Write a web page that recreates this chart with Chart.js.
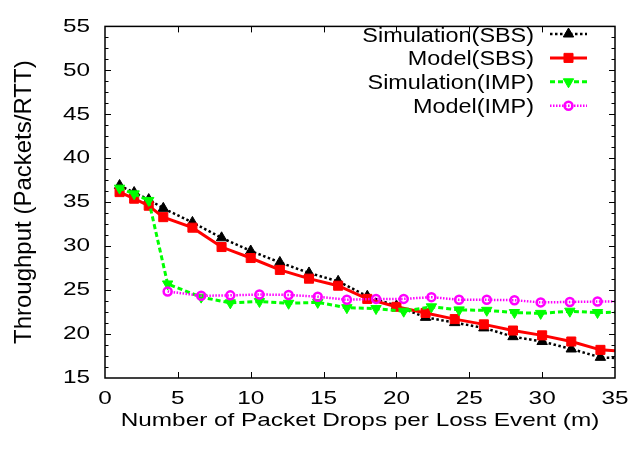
<!DOCTYPE html>
<html>
<head>
<meta charset="utf-8">
<script src="https://cdn.jsdelivr.net/npm/chart.js@4.4.1/dist/chart.umd.min.js"></script>
<style>
  html, body { margin: 0; padding: 0; background: #fff; }
  canvas { display: block; }
</style>
</head>
<body>
<canvas id="chart" width="641" height="451"></canvas>
<script>
// m values (packet drops per loss event) for the SBS runs and the IMP runs
const sbsDrops = [1, 2, 3, 4, 6, 8, 10, 12, 14, 16, 18, 20, 22, 24, 26, 28, 30, 32, 34, 36];
const simSbs = [36.9, 36.1, 35.3, 34.3, 32.7, 30.95, 29.45, 28.15, 26.95, 26.0, 24.3, 23.2, 21.9, 21.3, 20.7, 19.7, 19.15, 18.3, 17.35, 17.2];
const modelSbs = [36.15, 35.4, 34.6, 33.3, 32.1, 29.9, 28.65, 27.3, 26.3, 25.5, 24.0, 23.1, 22.4, 21.7, 21.1, 20.4, 19.85, 19.15, 18.2, 18.0];

const impDrops = [1, 2, 3, 4.3, 6.6, 8.6, 10.6, 12.6, 14.6, 16.6, 18.6, 20.5, 22.4, 24.3, 26.2, 28.1, 29.9, 31.9, 33.8, 35.7];
const simImp = [36.6, 35.95, 35.2, 25.7, 24.2, 23.55, 23.7, 23.5, 23.6, 23.0, 22.9, 22.6, 23.1, 22.75, 22.7, 22.45, 22.35, 22.6, 22.45, 22.5];
const modelImpDrops = impDrops.slice(3);
const modelImp = [24.85, 24.35, 24.4, 24.5, 24.45, 24.25, 23.9, 24.0, 24.0, 24.2, 23.9, 23.9, 23.85, 23.6, 23.65, 23.7, 23.7];

const xRange = [0, 35];
const xStep = 5;
const yRange = [15, 55];
const yStep = 5;
const yMinorStep = 1.25;

const xTitle = "Number of Packet Drops per Loss Event (m)";
const yTitle = "Throughput (Packets/RTT)";

const toPoints = (xs, ys) => xs.map((x, i) => ({ x: x, y: ys[i] }));

// the reference text is drawn wide, so horizontal text gets stretched around its anchor
let textStretch = 1.28;
const canvas = document.getElementById("chart");
const ctx = canvas.getContext("2d");
const rawFillText = CanvasRenderingContext2D.prototype.fillText;
ctx.fillText = function (text, x, y, maxWidth) {
    const m = this.getTransform();
    const sx = Math.abs(m.b) > 0.01 ? 1 : textStretch;
    this.save();
    this.translate(x, y);
    this.scale(sx, 1);
    if (maxWidth === undefined) rawFillText.call(this, text, 0, 0);
    else rawFillText.call(this, text, 0, 0, maxWidth / sx);
    this.restore();
};

const frame = {
    id: "frame",
    afterDraw(chart) {
        const { ctx, chartArea: a, scales } = chart;
        ctx.save();
        ctx.strokeStyle = "#000";
        ctx.lineWidth = 1.5;
        ctx.strokeRect(a.left, a.top, a.right - a.left, a.bottom - a.top);
        ctx.lineWidth = 1;
        ctx.beginPath();
        for (let v = xRange[0] + xStep; v < xRange[1]; v += xStep) {
            const px = Math.round(scales.x.getPixelForValue(v)) + 0.5;
            ctx.moveTo(px, a.bottom);
            ctx.lineTo(px, a.bottom - 6);
            ctx.moveTo(px, a.top);
            ctx.lineTo(px, a.top + 6);
        }
        for (let v = yRange[0] + yMinorStep; v < yRange[1]; v += yMinorStep) {
            const py = Math.round(scales.y.getPixelForValue(v)) + 0.5;
            const len = v % yStep === 0 ? 6 : 3.5;
            ctx.moveTo(a.left, py);
            ctx.lineTo(a.left + len, py);
            ctx.moveTo(a.right, py);
            ctx.lineTo(a.right - len, py);
        }
        ctx.stroke();
        ctx.restore();
    },
};

const keyBox = {
    id: "keyBox",
    afterDraw(chart) {
        const { ctx } = chart;
        ctx.save();
        textStretch = 1.2;
        ctx.font = "19.5px 'Liberation Sans', Arial, sans-serif";
        ctx.textAlign = "right";
        ctx.textBaseline = "alphabetic";
        chart.data.datasets.forEach((ds, i) => {
            const base = 41.5 + i * 23.9;
            const ly = base - 7.5;
            ctx.fillStyle = "#000";
            ctx.fillText(ds.label, 534, base);
            ctx.save();
            ctx.strokeStyle = ds.borderColor;
            ctx.lineWidth = ds.borderWidth;
            ctx.setLineDash(ds.borderDash || []);
            ctx.beginPath();
            ctx.moveTo(550, ly);
            ctx.lineTo(587, ly);
            ctx.stroke();
            ctx.restore();
            ctx.fillStyle = ds.pointBackgroundColor;
            ctx.strokeStyle = ds.pointBorderColor;
            ctx.lineWidth = ds.pointBorderWidth;
            Chart.helpers.drawPoint(ctx, {
                pointStyle: ds.pointStyle,
                rotation: ds.pointRotation || 0,
                radius: ds.pointRadius,
                borderWidth: ds.pointBorderWidth,
            }, 568.5, ly);
        });
        textStretch = 1.28;
        ctx.restore();
    },
};

Chart.defaults.font.family = "'Liberation Sans', Arial, sans-serif";
Chart.defaults.color = "#000";

new Chart(ctx, {
    type: "line",
    data: {
        datasets: [
            {
                label: "Simulation(SBS)",
                data: toPoints(sbsDrops, simSbs),
                borderColor: "#000",
                borderWidth: 2.5,
                borderDash: [2.5, 2.5],
                pointStyle: "triangle",
                pointRadius: 6,
                pointBorderWidth: 1,
                pointBackgroundColor: "#000",
                pointBorderColor: "#000",
                order: 4,
            },
            {
                label: "Model(SBS)",
                data: toPoints(sbsDrops, modelSbs),
                borderColor: "#ff0000",
                borderWidth: 3,
                pointStyle: "rect",
                pointRadius: 6.4,
                pointBorderWidth: 1,
                pointBackgroundColor: "#ff0000",
                pointBorderColor: "#ff0000",
                order: 3,
            },
            {
                label: "Simulation(IMP)",
                data: toPoints(impDrops, simImp),
                borderColor: "#00ff00",
                borderWidth: 3,
                borderDash: [5, 3],
                pointStyle: "triangle",
                pointRotation: 180,
                pointRadius: 6,
                pointBorderWidth: 1,
                pointBackgroundColor: "#00ff00",
                pointBorderColor: "#00ff00",
                order: 2,
            },
            {
                label: "Model(IMP)",
                data: toPoints(modelImpDrops, modelImp),
                borderColor: "#ff00ff",
                borderWidth: 2.5,
                borderDash: [1.5, 1.5],
                pointStyle: "circle",
                pointRadius: 4,
                pointBorderWidth: 2.5,
                pointBackgroundColor: "rgba(255,255,255,0)",
                pointBorderColor: "#ff00ff",
                order: 1,
            },
        ],
    },
    options: {
        responsive: false,
        devicePixelRatio: 1,
        animation: false,
        layout: {
            padding: { top: 17.5, right: 26, bottom: 0, left: 0 },
        },
        elements: {
            line: { tension: 0, fill: false },
        },
        plugins: {
            legend: { display: false },
            tooltip: { enabled: false },
        },
        scales: {
            x: {
                type: "linear",
                min: xRange[0],
                max: xRange[1],
                ticks: { stepSize: xStep, padding: 9, font: { size: 19 }, color: "#000" },
                grid: { display: false, drawTicks: false },
                border: { display: false },
                title: {
                    display: true,
                    text: xTitle,
                    font: { size: 19 },
                    color: "#000",
                    padding: { top: 0, bottom: 19 },
                },
                afterFit: (scale) => {
                    scale.height = 73;
                },
            },
            y: {
                type: "linear",
                min: yRange[0],
                max: yRange[1],
                ticks: { stepSize: yStep, padding: 15, font: { size: 19 }, color: "#000" },
                grid: { display: false, drawTicks: false },
                border: { display: false },
                title: {
                    display: true,
                    text: yTitle,
                    font: { size: 24 },
                    color: "#000",
                    padding: { top: 10, bottom: 0 },
                },
                afterFit: (scale) => {
                    scale.width = 105;
                },
            },
        },
    },
    plugins: [frame, keyBox],
});
</script>
</body>
</html>
